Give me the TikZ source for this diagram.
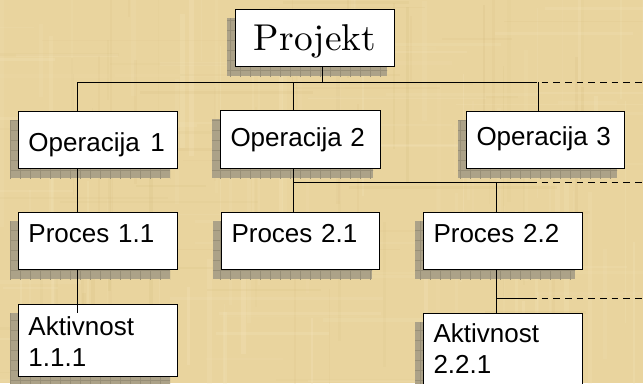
\documentclass[tikz,border=0pt]{standalone}
\usepackage{fontspec}
\newfontfamily\sansf{Liberation Sans}
\newfontfamily\lmten{lmroman10-regular}[Extension=.otf]
\pgfdeclarelayer{bg}
\pgfdeclarelayer{shadow}
\pgfdeclarelayer{lines}
\pgfsetlayers{bg,shadow,lines,main}
\definecolor{parch}{RGB}{233,212,158}
\definecolor{parchlight}{RGB}{246,232,192}
\definecolor{parchdark}{RGB}{208,182,118}
\definecolor{shadowfill}{RGB}{172,162,136}
\definecolor{shadowgrid}{RGB}{152,143,119}
\tikzset{
  wbs/.style n args={3}{draw=black, fill=white, line width=0.75pt, anchor=north west,
    inner ysep=0pt, inner xsep=7.5pt, align=left,
    font=\sansf\fontsize{19.5pt}{23.25pt}\selectfont,
    text width={(#1-20)*0.75pt}, text height={#2*0.75pt}, text depth={#3*0.75pt}},
  conn/.style={line width=0.75pt, draw=black},
  dconn/.style={conn, dash pattern=on 5pt off 3.75pt}
}
\begin{document}
\begin{tikzpicture}[x=0.75pt, y=-0.75pt]
\useasboundingbox (0,0) rectangle (643,383);
\clip (0,0) rectangle (643,383);
% background parchment
\begin{pgfonlayer}{bg}
\fill[parch] (0,0) rectangle (643,383);
\pgfmathsetseed{7}
\foreach \i in {1,...,70}{
  \pgfmathsetmacro\xx{643*rnd}\pgfmathsetmacro\yy{383*rnd-60}
  \pgfmathsetmacro\ww{1+4*rnd}\pgfmathsetmacro\hh{40+200*rnd}\pgfmathsetmacro\op{0.08+0.17*rnd}
  \fill[parchlight, opacity=\op] (\xx,\yy) rectangle ++(\ww,\hh);
}
\foreach \i in {1,...,45}{
  \pgfmathsetmacro\xx{643*rnd}\pgfmathsetmacro\yy{383*rnd-60}
  \pgfmathsetmacro\ww{1+3*rnd}\pgfmathsetmacro\hh{40+200*rnd}\pgfmathsetmacro\op{0.05+0.12*rnd}
  \fill[parchdark, opacity=\op] (\xx,\yy) rectangle ++(\ww,\hh);
}
\foreach \i in {1,...,50}{
  \pgfmathsetmacro\xx{643*rnd-80}\pgfmathsetmacro\yy{383*rnd}
  \pgfmathsetmacro\ww{50+200*rnd}\pgfmathsetmacro\hh{1+3*rnd}\pgfmathsetmacro\op{0.06+0.15*rnd}
  \fill[parchlight, opacity=\op] (\xx,\yy) rectangle ++(\ww,\hh);
}
\foreach \i in {1,...,30}{
  \pgfmathsetmacro\xx{643*rnd-80}\pgfmathsetmacro\yy{383*rnd}
  \pgfmathsetmacro\ww{50+200*rnd}\pgfmathsetmacro\hh{1+2*rnd}\pgfmathsetmacro\op{0.04+0.1*rnd}
  \fill[parchdark, opacity=\op] (\xx,\yy) rectangle ++(\ww,\hh);
}
\end{pgfonlayer}

% boxes
\node[wbs={159}{41}{16}, align=center, font=\lmten\fontsize{28pt}{30pt}\selectfont] (proj) at (235,9) {Projekt};
\node[wbs={159}{40}{17}] (op1) at (18,111) {Operacija~\kern1.5pt1};
\node[wbs={160}{36}{22}] (op2) at (220,110) {Operacija~2};
\node[wbs={158}{34}{23}] (op3) at (466,111) {Operacija~3};
\node[wbs={159}{30}{27}] (p11) at (18,212) {Proces~1.1};
\node[wbs={158}{30}{27}] (p21) at (221,212) {Proces~2.1};
\node[wbs={159}{30}{27}] (p22) at (423,212) {Proces~2.2};
\node[wbs={159}{31}{41}] (a111) at (18,304) {Aktivnost\\1.1.1};
\node[wbs={159}{29}{58}] (a221) at (423,313) {Aktivnost\\2.2.1};

% shadows
\begin{pgfonlayer}{shadow}
\foreach \n in {proj,op1,op2,op3,p11,p21,p22,a111,a221}{
  \begin{scope}
    \clip ([shift={(-8,9)}]\n.north west) rectangle ([shift={(-8,9)}]\n.south east);
    \fill[shadowfill] ([shift={(-8,9)}]\n.north west) rectangle ([shift={(-8,9)}]\n.south east);
    \draw[shadowgrid, line width=0.35pt, step=7.5pt] ([shift={(-10,0)}]\n.north west) grid ([shift={(0,20)}]\n.south east);
  \end{scope}
}
\end{pgfonlayer}

% bus coordinates
\coordinate (tp) at (322,82);
\coordinate (t1) at (77,82);
\coordinate (t2) at (293,82);
\coordinate (t3) at (538,82);
\coordinate (d1) at (530,82);
\coordinate (e1) at (643,82);
\coordinate (u1) at (293,182);
\coordinate (u2) at (496,182);
\coordinate (d2) at (530,182);
\coordinate (e2) at (643,182);
\coordinate (v1) at (496,298);
\coordinate (d3) at (530,298);
\coordinate (e3) at (643,298);
\coordinate (k1) at (77,313);

\begin{pgfonlayer}{lines}
\draw[conn] (proj.south -| tp) -- (tp);
\draw[conn] (t1) -- (d1);
\draw[dconn] (d1) -- (e1);
\draw[conn] (t1) -- (op1.north -| t1);
\draw[conn] (t2) -- (op2.north -| t2);
\draw[conn] (t3) -- (op3.north -| t3);
\draw[conn] (op1.south -| t1) -- (p11.north -| t1);
\draw[conn] (op2.south -| u1) -- (p21.north -| u1);
\draw[conn] (u1) -- (d2);
\draw[dconn] (d2) -- (e2);
\draw[conn] (u2) -- (p22.north -| u2);
\draw[conn] (p22.south -| v1) -- (a221.north -| v1);
\draw[conn] (v1) -- (d3);
\draw[dconn] (d3) -- (e3);
\end{pgfonlayer}
\draw[conn] (p11.south -| k1) -- (k1);
\end{tikzpicture}
\end{document}
